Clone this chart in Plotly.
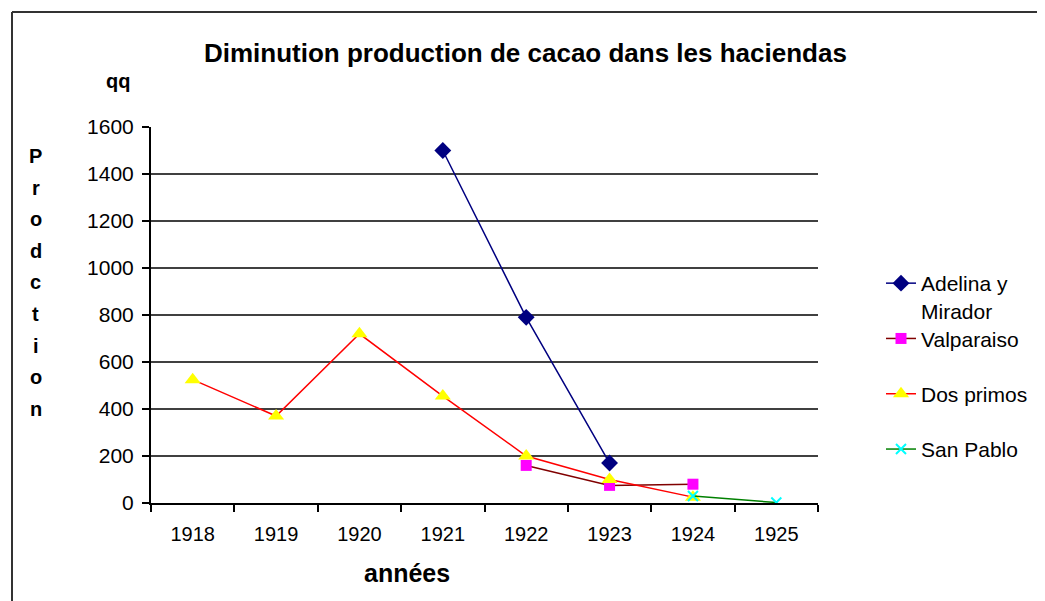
import plotly.graph_objects as go

years = ["1918", "1919", "1920", "1921", "1922", "1923", "1924", "1925"]
adelina = [None, None, None, 1500, 790, 170, None, None]
valparaiso = [None, None, None, None, 160, 75, 80, None]
dos_primos = [525, 370, 720, 455, 200, 100, 25, None]
san_pablo = [None, None, None, None, None, None, 30, 2]
y_ticks = [0, 200, 400, 600, 800, 1000, 1200, 1400, 1600]
ylabel_letters = list("Prodction")

OFF = 8  # page body margin
W, H = 1045 - OFF, 601 - OFF
L, R, T, B = 151 - OFF, 818 - OFF, 127 - OFF, 503 - OFF

def px(x):
    return (x - OFF - L) / (R - L)

def py(y):
    return (B - (y - OFF)) / (B - T)

FONT = "Liberation Sans, Arial, sans-serif"

fig = go.Figure()
fig.add_trace(go.Scatter(x=years, y=adelina, name="Adelina y", mode="lines+markers",
                         line=dict(color="#000080", width=1.5),
                         marker=dict(symbol="diamond", size=13, color="#000080"), legendgroup="a"))
fig.add_trace(go.Scatter(x=years, y=valparaiso, name="Valparaiso", mode="lines+markers",
                         line=dict(color="#800000", width=1.5),
                         marker=dict(symbol="square", size=11, color="#FF00FF"), legendgroup="b"))
fig.add_trace(go.Scatter(x=years, y=dos_primos, name="Dos primos", mode="lines+markers",
                         line=dict(color="#FF0000", width=1.5),
                         marker=dict(symbol="triangle-up", size=14, color="#FFFF00"), legendgroup="c"))
fig.add_trace(go.Scatter(x=years, y=san_pablo, name="San Pablo", mode="lines+markers",
                         line=dict(color="#008000", width=1.5),
                         marker=dict(symbol="x-thin", size=10, line=dict(color="#00FFFF", width=2)),
                         legendgroup="d"))

shapes = []
for v in y_ticks[1:-1]:
    shapes.append(dict(type="line", xref="paper", yref="y", x0=0, x1=1, y0=v, y1=v,
                       line=dict(color="black", width=1.5), layer="below"))
shapes.append(dict(type="line", xref="paper", yref="paper", x0=px(12), x1=px(1060), y0=py(12), y1=py(12),
                   line=dict(color="#333333", width=2)))
shapes.append(dict(type="line", xref="paper", yref="paper", x0=px(12), x1=px(12), y0=py(12), y1=py(620),
                   line=dict(color="#333333", width=2)))

annotations = [
    dict(text="<b>Diminution production de cacao dans les haciendas</b>", x=px(525), y=py(53),
         xref="paper", yref="paper", showarrow=False, xanchor="center", yanchor="middle",
         font=dict(size=26, color="black", family=FONT)),
    dict(text="<b>qq</b>", x=px(118), y=py(81), xref="paper", yref="paper", showarrow=False,
         xanchor="center", yanchor="middle", font=dict(size=20, color="black", family=FONT)),
    dict(text="<b>années</b>", x=px(407), y=py(573), xref="paper", yref="paper", showarrow=False,
         xanchor="center", yanchor="middle", font=dict(size=25, color="black", family=FONT)),
    dict(text="Mirador", x=px(921), y=py(311), xref="paper", yref="paper", showarrow=False,
         xanchor="left", yanchor="middle", xshift=-2, font=dict(size=21, color="black", family=FONT)),
]
for i, ch in enumerate(ylabel_letters):
    annotations.append(dict(text="<b>%s</b>" % ch, x=px(36), y=py(156 + i * 31.6), xref="paper", yref="paper",
                            showarrow=False, xanchor="center", yanchor="middle",
                            font=dict(size=20, color="black", family=FONT)))

fig.update_layout(
    width=W, height=H,
    margin=dict(l=L, r=W - R, t=T, b=H - B, pad=0),
    paper_bgcolor="white", plot_bgcolor="white",
    font=dict(family=FONT, color="black"),
    showlegend=True,
    legend=dict(x=px(881), y=py(263), xanchor="left", yanchor="top",
                font=dict(size=21, color="black", family=FONT),
                traceorder="grouped", tracegroupgap=25, bgcolor="rgba(0,0,0,0)"),
    xaxis=dict(type="category", categoryorder="array", categoryarray=years,
               showgrid=False, zeroline=False, showline=True, linecolor="black", linewidth=2,
               ticks="outside", tickson="boundaries", ticklen=7, tickwidth=2, tickcolor="black",
               tickfont=dict(size=20, family=FONT), ticklabelstandoff=12, range=[-0.5, 7.5]),
    yaxis=dict(range=[0, 1600], tickvals=y_ticks, showgrid=False, zeroline=False,
               showline=True, linecolor="black", linewidth=2,
               ticks="outside", ticklen=7, tickwidth=2, tickcolor="black",
               tickfont=dict(size=21, family=FONT), ticklabelstandoff=4),
    shapes=shapes,
    annotations=annotations,
)

fig.write_html("out.html")
